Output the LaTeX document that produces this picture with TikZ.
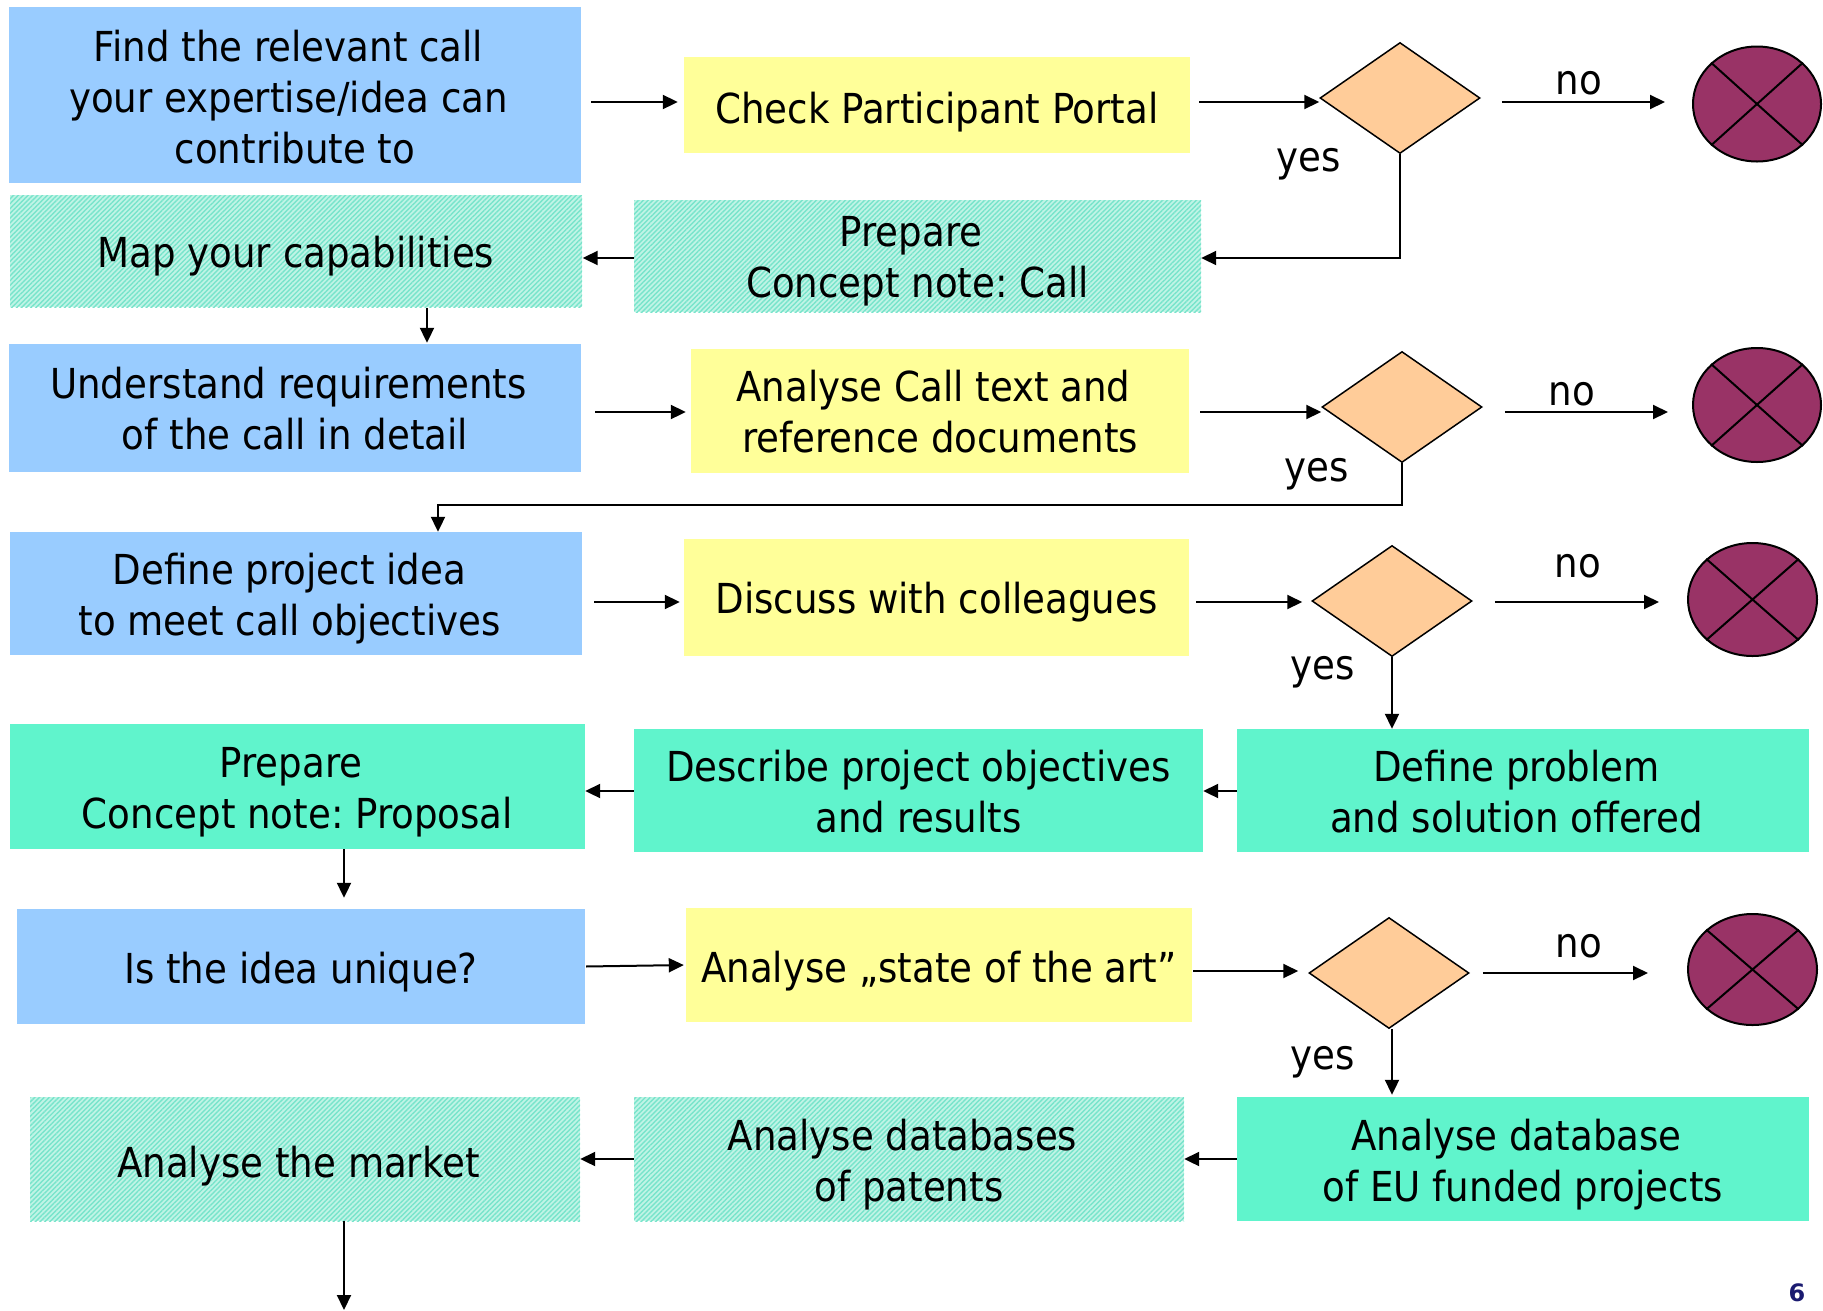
\documentclass[tikz,border=0pt]{standalone}
\usepackage{fontspec}
\setmainfont{DejaVu Sans Condensed}
\newfontfamily\numfont{DejaVu Sans}
\usetikzlibrary{shapes.geometric, arrows.meta, patterns.meta}
\frenchspacing
\definecolor{cBlue}{HTML}{99CCFF}
\definecolor{cYellow}{HTML}{FFFF99}
\definecolor{cGreen}{HTML}{60F4CC}
\definecolor{cDiam}{HTML}{FFCC99}
\definecolor{cStop}{HTML}{993366}
\definecolor{cHatchBg}{HTML}{C0F4E6}
\definecolor{cHatchLn}{HTML}{78E4CB}
\definecolor{cPage}{HTML}{1A1A70}
\newcommand{\tsp}{\kern13pt}
\tikzset{
  box/.style={rectangle, inner sep=0pt},
  bluebox/.style={box, fill=cBlue},
  yelbox/.style={box, fill=cYellow},
  greenbox/.style={box, fill=cGreen},
  hatchbox/.style={box, preaction={fill=cHatchBg}, pattern={Lines[angle=45,distance=3.4pt,line width=1.4pt]}, pattern color=cHatchLn},
  txt/.style={inner sep=0pt, align=center, font=\fontsize{41.3}{51}\selectfont},
  dia/.style={diamond, draw, line width=1.5pt, fill=cDiam, inner sep=0pt, minimum width=160pt, minimum height=111pt},
  stopn/.style={ellipse, draw, line width=2pt, fill=cStop, inner sep=0pt},
  lbl/.style={inner sep=0pt, font=\fontsize{41.3}{51}\selectfont},
  arr/.style={-{Triangle[length=15pt,width=14pt]}, line width=2pt},
  ln/.style={line width=2pt}
}
\begin{document}
\begin{tikzpicture}[x=1pt,y=-1pt]
\useasboundingbox (0,0) rectangle (1823,1310);
% row coordinates
\coordinate (r1) at (0,102);
\coordinate (r2) at (0,258);
\coordinate (r3) at (0,412);
\coordinate (r4) at (0,602);
\coordinate (r5) at (0,791);
\coordinate (r6) at (0,971);
\coordinate (r6n) at (0,973);
\coordinate (r7) at (0,1159);
\coordinate (turn) at (0,505);
\coordinate (cux) at (427,0);
\coordinate (dpx) at (438,0);
\coordinate (ppx) at (344,0);
\coordinate (endm) at (344,1310);
% row 1
\node[bluebox, minimum width=572pt, minimum height=176pt] (A) at (295,95) {};
\node[txt] (At) at ([yshift=-2pt]A.center) {Find the relevant call\tsp\\your expertise/idea can\tsp\\contribute to};
\node[yelbox, minimum width=506pt, minimum height=96pt] (B) at (937,105) {};
\node[txt] (Bt) at ([yshift=-7pt]B.center) {Check Participant Portal};
\node[dia] (D1) at (1400,98) {};
\node[stopn, minimum width=128pt, minimum height=115pt] (X1) at (1757,104) {};
\node[lbl] (no1) at (1579,83.5) {no};
\node[lbl] (yes1) at (1309,164) {yes};
% row 2
\node[hatchbox, minimum width=572pt, minimum height=112pt] (C) at (296,251) {};
\node[txt] (Ct) at ([yshift=-5pt]C.center) {Map your capabilities};
\node[hatchbox, minimum width=567pt, minimum height=112pt] (Pc) at (917.5,256) {};
\node[txt] (Pct) at ([yshift=-5.5pt]Pc.center) {Prepare\tsp\\Concept note: Call};
% row 3
\node[bluebox, minimum width=572pt, minimum height=128pt] (U) at (295,408) {};
\node[txt] (Ut) at ([yshift=-1pt]U.center) {Understand requirements\tsp\\of the call in detail};
\node[yelbox, minimum width=498pt, minimum height=124pt] (AC) at (940,411) {};
\node[txt] (ACt) at ([yshift=-1pt]AC.center) {Analyse Call text and\tsp\\reference documents};
\node[dia] (D2) at (1402,407) {};
\node[stopn, minimum width=128pt, minimum height=114pt] (X2) at (1757,405) {};
\node[lbl] (no2) at (1572,394.5) {no};
\node[lbl] (yes2) at (1317,474) {yes};
% row 4
\node[bluebox, minimum width=572pt, minimum height=123pt] (DP) at (296,593.5) {};
\node[txt] (DPt) at ([yshift=-5pt]DP.center) {Define project idea\tsp\\to meet call objectives\tsp};
\node[yelbox, minimum width=505pt, minimum height=117pt] (DC) at (936.5,597.5) {};
\node[txt] (DCt) at ([yshift=-5pt]DC.center) {Discuss with colleagues};
\node[dia] (D3) at (1392,601) {};
\node[stopn, minimum width=129pt, minimum height=113pt] (X3) at (1752.5,599.5) {};
\node[lbl] (no3) at (1578,566.5) {no};
\node[lbl] (yes3) at (1323,672) {yes};
% row 5
\node[greenbox, minimum width=575pt, minimum height=125pt] (PP) at (297.5,786.5) {};
\node[txt] (PPt) at ([yshift=-6pt]PP.center) {Prepare\tsp\\Concept note: Proposal};
\node[greenbox, minimum width=569pt, minimum height=123pt] (DO) at (918.5,790.5) {};
\node[txt] (DOt) at ([yshift=-1pt]DO.center) {Describe project objectives\\and results};
\node[greenbox, minimum width=572pt, minimum height=123pt] (DS) at (1523,790.5) {};
\node[txt] (DSt) at ([yshift=-1pt]DS.center) {Define problem\tsp\\and solution offered\tsp};
% row 6
\node[bluebox, minimum width=568pt, minimum height=115pt] (IU) at (301,966.5) {};
\node[txt] (IUt) at ([yshift=-6pt]IU.center) {Is the idea unique?};
\node[yelbox, minimum width=506pt, minimum height=114pt] (SA) at (939,965) {};
\node[txt] (SAt) at ([yshift=-6pt]SA.center) {Analyse „state of the art”};
\node[dia] (D4) at (1389,973) {};
\node[stopn, minimum width=129pt, minimum height=111pt] (X4) at (1752.5,969.5) {};
\node[lbl] (no4) at (1579,946.5) {no};
\node[lbl] (yes4) at (1323,1062) {yes};
% row 7
\node[hatchbox, minimum width=550pt, minimum height=124pt] (AM) at (305,1159) {};
\node[txt] (AMt) at ([yshift=-7pt]AM.center) {Analyse the market\tsp};
\node[hatchbox, minimum width=550pt, minimum height=124pt] (AP) at (909,1159) {};
\node[txt] (APt) at ([yshift=-6pt]AP.center) {Analyse databases\tsp\\of patents};
\node[greenbox, minimum width=572pt, minimum height=124pt] (AE) at (1523,1159) {};
\node[txt] (AEt) at ([yshift=-6pt]AE.center) {Analyse database\tsp\\of EU funded projects};
% page number
\node[inner sep=0pt, text=cPage, font=\numfont\bfseries\fontsize{24}{28}\selectfont] (pg) at (1797,1293) {6};
% crosses
\foreach \n in {X1,X2,X3,X4}{
  \draw[ln] (\n.north west) -- (\n.south east) (\n.north east) -- (\n.south west);
}
% connectors row 1
\draw[arr, shorten <=10pt, shorten >=6pt] (A.east |- r1) -- (B.west |- r1);
\draw[arr, shorten <=9pt] (B.east |- r1) -- (D1.west |- r1);
\draw[arr, shorten <=21pt, shorten >=27pt] (D1.east |- r1) -- (X1.west |- r1);
\draw[arr] (D1.south) |- (Pc.east |- r2);
% row 2
\draw[arr] (Pc.west |- r2) -- (C.east |- r2);
\draw[arr, shorten >=1pt] (C.south -| cux) -- (U.north -| cux);
% row 3
\draw[arr, shorten <=14pt, shorten >=5pt] (U.east |- r3) -- (AC.west |- r3);
\draw[arr, shorten <=11pt] (AC.east |- r3) -- (D2.west |- r3);
\draw[arr, shorten <=22pt, shorten >=24pt] (D2.east |- r3) -- (X2.west |- r3);
\draw[arr] (D2.south) -- (D2.south |- turn) -- (dpx |- turn) -- (dpx |- DP.north);
% row 4
\draw[arr, shorten <=12pt, shorten >=4pt] (DP.east |- r4) -- (DC.west |- r4);
\draw[arr, shorten <=7pt, shorten >=9pt] (DC.east |- r4) -- (D3.west |- r4);
\draw[arr, shorten <=22pt, shorten >=28pt] (D3.east |- r4) -- (X3.west |- r4);
\draw[arr] (D3.south) -- (D3.south |- DS.north);
% row 5
\draw[arr] (DS.west |- r5) -- (DO.east |- r5);
\draw[arr] (DO.west |- r5) -- (PP.east |- r5);
\draw[arr, shorten >=11pt] (PP.south -| ppx) -- (IU.north -| ppx);
% row 6
\draw[arr, shorten <=1pt, shorten >=2pt] (IU.east) -- (SA.west);
\draw[arr, shorten <=1pt, shorten >=10pt] (SA.east |- r6) -- (D4.west |- r6);
\draw[arr, shorten <=13pt, shorten >=39pt] (D4.east |- r6n) -- (X4.west |- r6n);
\draw[arr, shorten >=2pt] (D4.south -| D3.south) -- (D3.south |- AE.north);
% row 7
\draw[arr] (AE.west |- r7) -- (AP.east |- r7);
\draw[arr] (AP.west |- r7) -- (AM.east |- r7);
\draw[arr] (AM.south -| ppx) -- (endm);
\end{tikzpicture}
\end{document}
